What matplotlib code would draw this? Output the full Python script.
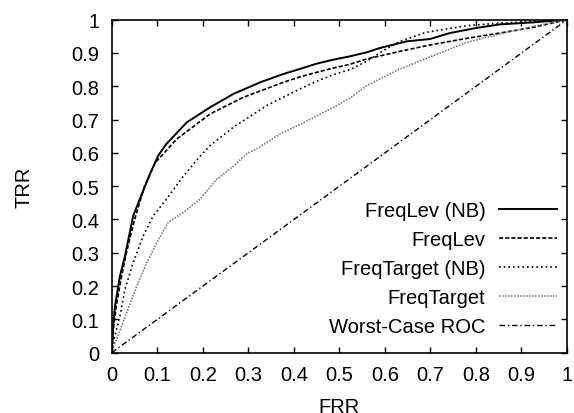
import matplotlib
matplotlib.use('Agg')
import matplotlib.pyplot as plt

plt.rcParams['font.family'] = ['Liberation Sans', 'DejaVu Sans']
plt.rcParams['font.size'] = 14.5

# FreqLev (NB)
lev_nb_x = [0, 0.003, 0.007, 0.018, 0.029, 0.047, 0.066, 0.084, 0.102, 0.12, 0.165, 0.216,
            0.267, 0.326, 0.377, 0.413, 0.45, 0.487, 0.523, 0.56, 0.589, 0.648, 0.699, 0.743,
            0.80, 0.853, 0.926, 1.0]
lev_nb_y = [0, 0.08, 0.141, 0.231, 0.291, 0.411, 0.477, 0.537, 0.592, 0.627, 0.692, 0.737,
            0.777, 0.812, 0.837, 0.852, 0.868, 0.88, 0.89, 0.902, 0.915, 0.935, 0.942, 0.96,
            0.975, 0.986, 0.992, 1.0]

# FreqLev
lev_x = [0, 0.004, 0.01, 0.02, 0.032, 0.05, 0.072, 0.095, 0.143, 0.216, 0.289, 0.377, 0.413,
         0.45, 0.487, 0.523, 0.56, 0.633, 0.706, 0.78, 0.853, 0.926, 1.0]
lev_y = [0, 0.08, 0.14, 0.22, 0.3, 0.4, 0.5, 0.57, 0.642, 0.717, 0.767, 0.812, 0.828,
         0.842, 0.855, 0.866, 0.882, 0.905, 0.926, 0.944, 0.96, 0.977, 1.0]

# FreqTarget (NB)
tgt_nb_x = [0, 0.005, 0.018, 0.029, 0.047, 0.069, 0.091, 0.12, 0.157, 0.194, 0.216, 0.267,
            0.34, 0.413, 0.45, 0.487, 0.523, 0.56, 0.6, 0.633, 0.69, 0.78, 0.853, 0.926, 1.0]
tgt_nb_y = [0, 0.04, 0.111, 0.191, 0.271, 0.351, 0.411, 0.461, 0.53, 0.59, 0.622, 0.677,
            0.742, 0.792, 0.815, 0.835, 0.85, 0.875, 0.91, 0.935, 0.962, 0.982, 0.99, 0.994, 1.0]

# FreqTarget
tgt_x = [0, 0.004, 0.011, 0.033, 0.055, 0.077, 0.099, 0.124, 0.157, 0.194, 0.23, 0.267, 0.296,
         0.318, 0.37, 0.413, 0.487, 0.523, 0.56, 0.633, 0.706, 0.78, 0.853, 0.926, 1.0]
tgt_y = [0, 0.02, 0.041, 0.121, 0.201, 0.271, 0.331, 0.392, 0.421, 0.461, 0.52, 0.56, 0.597,
         0.612, 0.657, 0.685, 0.737, 0.765, 0.802, 0.852, 0.892, 0.932, 0.957, 0.98, 1.0]

# Worst-Case ROC
worst_x = [0, 1]
worst_y = [0, 1]

ticks = [0, 0.1, 0.2, 0.3, 0.4, 0.5, 0.6, 0.7, 0.8, 0.9, 1]
tick_labels = ['0', '0.1', '0.2', '0.3', '0.4', '0.5', '0.6', '0.7', '0.8', '0.9', '1']

fig = plt.figure(figsize=(5.74, 4.14), dpi=100)
ax = fig.add_axes([0.1948, 0.1457, 0.793, 0.8043])

ax.plot(lev_nb_x, lev_nb_y, color='black', lw=1.4, ls='-', label='FreqLev (NB)')
ax.plot(lev_x, lev_y, color='black', lw=1.2, ls=(0, (2.5, 1.2)), label='FreqLev')
ax.plot(tgt_nb_x, tgt_nb_y, color='black', lw=1.2, ls=(0, (1, 1.8)), label='FreqTarget (NB)')
ax.plot(tgt_x, tgt_y, color='#808080', lw=1.2, ls=(0, (1, 0.8)), label='FreqTarget')
ax.plot(worst_x, worst_y, color='black', lw=1.0, ls=(0, (4, 2, 1, 2)), label='Worst-Case ROC')

ax.set_xlim(0, 1)
ax.set_ylim(0, 1)
ax.set_xticks(ticks)
ax.set_xticklabels(tick_labels)
ax.set_yticks(ticks)
ax.set_yticklabels(tick_labels)
ax.tick_params(direction='in', length=4, width=1, top=True, right=True, pad=9)
for s in ax.spines.values():
    s.set_linewidth(1.2)

ax.set_xlabel('FRR', labelpad=9)
ax.set_ylabel('TRR', labelpad=27)

ax.legend(loc='lower right', bbox_to_anchor=(0.978, 0.05), markerfirst=False, frameon=False,
          handlelength=2.9, handletextpad=0.65, labelspacing=0.5, borderpad=0, borderaxespad=0)

fig.savefig('out.png', dpi=100)
